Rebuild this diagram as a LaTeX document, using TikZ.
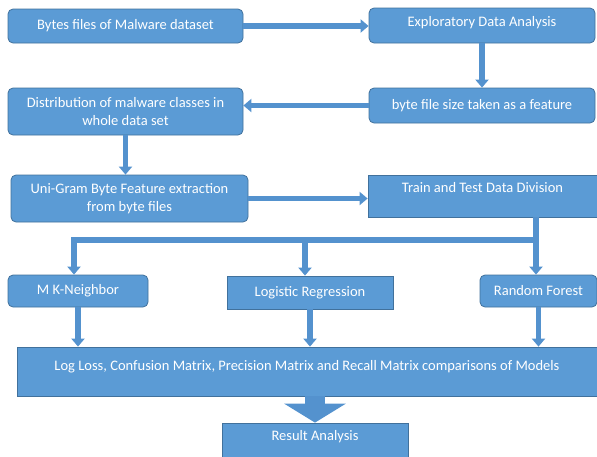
\documentclass[tikz,border=0pt]{standalone}
\usepackage{fontspec}
\setmainfont{Carlito}
\usetikzlibrary{arrows.meta,positioning}

\definecolor{boxblue}{RGB}{91,155,213}
\definecolor{edgeblue}{RGB}{65,113,156}
\definecolor{arrowblue}{RGB}{84,146,206}

\tikzset{
  box/.style={draw=edgeblue, line width=0.8pt, fill=boxblue, text=white,
    align=center, inner sep=0pt, font=\fontsize{14.5}{17.5}\selectfont},
  rbox/.style={box, rounded corners=5pt},
  flow/.style={draw=arrowblue, line width=5.5pt, -{Triangle[length=8pt,width=13pt]}},
  bigflow/.style={draw=arrowblue, line width=20pt, -{Triangle[length=19pt,width=61pt]}},
}

\begin{document}
\begin{tikzpicture}[x=1pt, y=-1pt]
  \useasboundingbox (0,0) rectangle (597,456);

  % top half: data preparation
  \node[rbox, minimum width=235, minimum height=34] (bytes) at (125.5,26)
    {Bytes files of Malware dataset};
  \node[rbox, minimum width=226, minimum height=35, text height=10pt, text depth=8pt]
    (eda) at (482,25.5) {Exploratory Data Analysis};
  \node[rbox, minimum width=226, minimum height=35] (fsize) at (482,105.5)
    {byte file size taken as a feature};
  \node[rbox, minimum width=235, minimum height=47] (distrib) at (125.5,111.5)
    {Distribution of malware classes in\\whole data set};
  \node[rbox, minimum width=237, minimum height=47] (unigram) at (129.5,198.5)
    {Uni-Gram Byte Feature extraction\\from byte files};
  \node[box, minimum width=229, minimum height=42, text height=10pt, text depth=17pt]
    (split) at (482.5,196) {Train and Test Data Division};

  % models
  \node[rbox, minimum width=140, minimum height=32] (knn) at (78,291) {M K-Neighbor};
  \node[box, minimum width=166, minimum height=33] (logreg) at (310,292.5)
    {Logistic Regression};
  \node[rbox, minimum width=117, minimum height=32] (forest) at (538.5,291)
    {Random Forest};

  % evaluation
  \node[box, minimum width=580, minimum height=49, text height=10pt, text depth=12pt]
    (metrics) at (307,371.5)
    {Log Loss, Confusion Matrix, Precision Matrix and Recall Matrix comparisons of Models};
  \node[box, minimum width=186, minimum height=34, text height=10pt, text depth=9pt]
    (result) at (315,440) {Result Analysis};

  \coordinate (fork) at (536,240);
  \coordinate (forkL) at (74,240);
  \coordinate (forkM) at (305,240);

  \draw[flow] (bytes.east) -- (bytes.east -| eda.west);
  \draw[flow] (eda) -- (fsize);
  \draw[flow] (fsize.west) -- (fsize.west -| distrib.east);
  \draw[flow] (distrib.south) -- (distrib.south |- unigram.north);
  \draw[flow] (unigram.east) -- (unigram.east -| split.west);

  % split fans out to the three classifiers
  \draw[flow] (split.south -| fork) -- (fork |- forest.north);
  \draw[flow] (fork) -- (forkL) -- (forkL |- knn.north);
  \draw[flow] (forkM) -- (forkM |- logreg.north);

  \draw[flow] (knn.south) -- (knn.south |- metrics.north);
  \draw[flow] (logreg.south) -- (logreg.south |- metrics.north);
  \draw[flow] (forest.south) -- (forest.south |- metrics.north);

  \draw[bigflow] (result.north |- metrics.south) -- (result.north);
\end{tikzpicture}
\end{document}
